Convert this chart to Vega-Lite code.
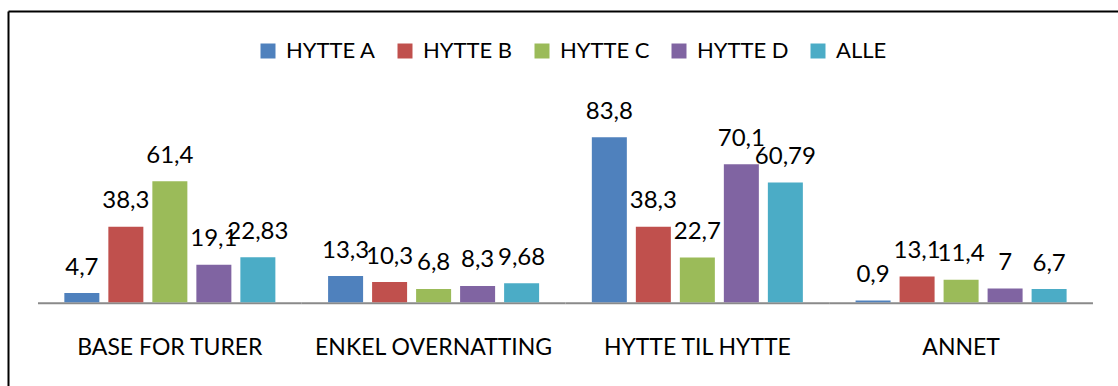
{
  "$schema": "https://vega.github.io/schema/vega-lite/v6.json",
  "width": 1110,
  "height": 375,
  "autosize": {"type": "none"},
  "padding": {"left": 8, "top": 11, "right": 0, "bottom": 0},
  "background": "white",
  "config": {
    "font": "Lato",
    "view": {"stroke": null},
    "locale": {
      "number": {"decimal": ",", "thousands": " ", "grouping": [3], "currency": ["", " kr"]}
    }
  },
  "data": {
    "values": [
      {"formaal": "BASE FOR TURER", "hytte": "HYTTE A", "andel": 4.7},
      {"formaal": "BASE FOR TURER", "hytte": "HYTTE B", "andel": 38.3},
      {"formaal": "BASE FOR TURER", "hytte": "HYTTE C", "andel": 61.4},
      {"formaal": "BASE FOR TURER", "hytte": "HYTTE D", "andel": 19.1},
      {"formaal": "BASE FOR TURER", "hytte": "ALLE", "andel": 22.83},
      {"formaal": "ENKEL OVERNATTING", "hytte": "HYTTE A", "andel": 13.3},
      {"formaal": "ENKEL OVERNATTING", "hytte": "HYTTE B", "andel": 10.3},
      {"formaal": "ENKEL OVERNATTING", "hytte": "HYTTE C", "andel": 6.8},
      {"formaal": "ENKEL OVERNATTING", "hytte": "HYTTE D", "andel": 8.3},
      {"formaal": "ENKEL OVERNATTING", "hytte": "ALLE", "andel": 9.68},
      {"formaal": "HYTTE TIL HYTTE", "hytte": "HYTTE A", "andel": 83.8},
      {"formaal": "HYTTE TIL HYTTE", "hytte": "HYTTE B", "andel": 38.3},
      {"formaal": "HYTTE TIL HYTTE", "hytte": "HYTTE C", "andel": 22.7},
      {"formaal": "HYTTE TIL HYTTE", "hytte": "HYTTE D", "andel": 70.1},
      {"formaal": "HYTTE TIL HYTTE", "hytte": "ALLE", "andel": 60.79},
      {"formaal": "ANNET", "hytte": "HYTTE A", "andel": 0.9},
      {"formaal": "ANNET", "hytte": "HYTTE B", "andel": 13.1},
      {"formaal": "ANNET", "hytte": "HYTTE C", "andel": 11.4},
      {"formaal": "ANNET", "hytte": "HYTTE D", "andel": 7},
      {"formaal": "ANNET", "hytte": "ALLE", "andel": 6.7}
    ]
  },
  "resolve": {"axis": {"x": "independent", "y": "independent"}},
  "layer": [
    {
      "transform": [{"filter": "datum.hytte === 'ALLE'"}],
      "mark": {"type": "bar", "color": "#8a8a8a"},
      "encoding": {
        "x": {
          "field": "formaal", "type": "nominal", "sort": null,
          "scale": {"paddingInner": 0, "paddingOuter": 0.1043, "align": 0.545},
          "axis": {"orient": "top", "title": null, "labels": false, "ticks": false, "grid": false, "domain": true, "domainColor": "#000000", "domainWidth": 2}
        },
        "y": {
          "datum": 0, "type": "quantitative",
          "scale": {"domain": [-42.5, 147.9], "nice": false, "zero": false},
          "axis": {"orient": "left", "title": null, "labels": false, "ticks": false, "grid": false, "domain": true, "domainColor": "#000000", "domainWidth": 2}
        },
        "y2": {"datum": -1}
      }
    },
    {
      "mark": {"type": "bar"},
      "encoding": {
        "x": {
          "field": "formaal", "type": "nominal", "sort": null,
          "scale": {"paddingInner": 0, "paddingOuter": 0.1043, "align": 0.545},
          "axis": {"orient": "bottom", "offset": -32, "title": null, "domain": false, "ticks": false, "tickSize": 0, "labelPadding": 0, "labelBaseline": "alphabetic", "labelAngle": 0, "labelLimit": 0, "labelFontSize": 23, "labelColor": "#000000", "labelFont": "Lato"}
        },
        "xOffset": {
          "field": "hytte", "type": "nominal", "sort": ["HYTTE A", "HYTTE B", "HYTTE C", "HYTTE D", "ALLE"],
          "scale": {"paddingInner": 0.2045, "paddingOuter": 0.599}
        },
        "y": {
          "field": "andel", "type": "quantitative", "stack": null,
          "scale": {"domain": [-42.5, 147.9], "nice": false, "zero": false},
          "axis": null
        },
        "color": {
          "field": "hytte", "type": "nominal",
          "scale": {
            "domain": ["HYTTE A", "HYTTE B", "HYTTE C", "HYTTE D", "ALLE"],
            "range": ["#4f81bd", "#c0504d", "#9bbb59", "#8064a2", "#4bacc6"]
          },
          "legend": {
            "orient": "none", "legendX": 249, "legendY": 29, "direction": "horizontal",
            "title": null, "symbolType": "square", "symbolSize": 225, "symbolStrokeWidth": 0,
            "labelFontSize": 22, "labelFont": "Lato", "labelColor": "#000000", "labelOffset": 7,
            "columnPadding": 18, "padding": 0
          }
        }
      }
    },
    {
      "mark": {"type": "text", "baseline": "alphabetic", "align": "center", "dy": -18.5, "fontSize": 24, "font": "Lato", "color": "#000000"},
      "encoding": {
        "x": {
          "field": "formaal", "type": "nominal", "sort": null,
          "scale": {"paddingInner": 0, "paddingOuter": 0.1043, "align": 0.545},
          "axis": null
        },
        "xOffset": {
          "field": "hytte", "type": "nominal", "sort": ["HYTTE A", "HYTTE B", "HYTTE C", "HYTTE D", "ALLE"],
          "scale": {"paddingInner": 0.2045, "paddingOuter": 0.599}
        },
        "y": {
          "field": "andel", "type": "quantitative", "stack": null,
          "scale": {"domain": [-42.5, 147.9], "nice": false, "zero": false},
          "axis": null
        },
        "text": {"field": "andel", "type": "quantitative", "format": "~g"}
      }
    }
  ]
}
